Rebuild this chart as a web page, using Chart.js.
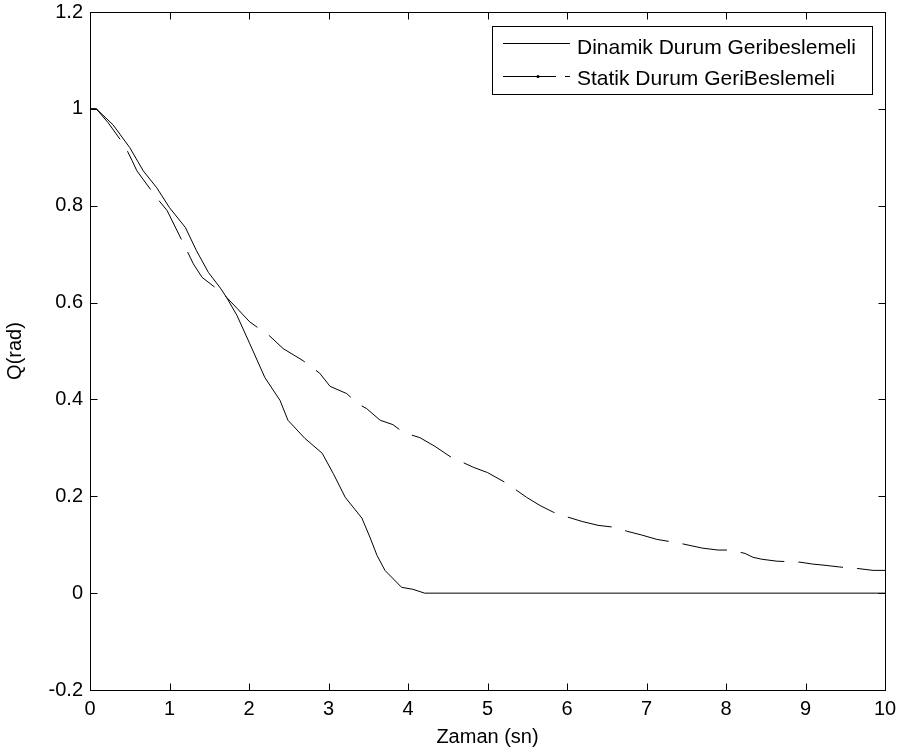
<!DOCTYPE html>
<html>
<head>
<meta charset="utf-8">
<script src="https://cdn.jsdelivr.net/npm/chart.js@4/dist/chart.umd.min.js"></script>
<style>
  html, body { margin: 0; padding: 0; background: #fff; }
  canvas { display: block; }
</style>
</head>
<body>
<canvas id="chart" width="904" height="753"></canvas>
<script>
// Dinamik durum geribeslemeli (solid)
const dynTime  = [0, 0.08, 0.29, 0.5, 0.67, 0.84, 1.0, 1.2, 1.34, 1.49, 1.64, 1.72, 1.85, 2.01, 2.2, 2.39, 2.49, 2.7, 2.92, 3.06, 3.21, 3.42, 3.52, 3.61, 3.71, 3.92, 4.06, 4.21, 10];
const dynValue = [1, 1, 0.967, 0.92, 0.872, 0.837, 0.796, 0.755, 0.707, 0.662, 0.63, 0.61, 0.573, 0.515, 0.445, 0.398, 0.357, 0.32, 0.289, 0.247, 0.198, 0.155, 0.116, 0.078, 0.047, 0.012, 0.008, 0, 0];

// Statik durum geribeslemeli (dashed)
const statTime  = [0, 0.08, 0.23, 0.44, 0.53, 0.59, 0.84, 0.97, 1.22, 1.3, 1.41, 1.67, 1.85, 2.01, 2.26, 2.43, 2.68, 2.89, 3.02, 3.23, 3.36, 3.48, 3.65, 3.81, 3.94, 4.15, 4.34, 4.53, 4.82, 5.0, 5.24, 5.49, 5.66, 5.83, 6.01, 6.19, 6.39, 6.6, 6.75, 6.94, 7.13, 7.42, 7.7, 7.9, 8.05, 8.24, 8.34, 8.45, 8.64, 8.93, 9.09, 9.22, 9.43, 9.65, 9.85, 10];
const statValue = [1, 1, 0.971, 0.923, 0.893, 0.872, 0.816, 0.79, 0.707, 0.68, 0.652, 0.619, 0.588, 0.56, 0.531, 0.505, 0.48, 0.454, 0.427, 0.412, 0.392, 0.381, 0.357, 0.348, 0.332, 0.321, 0.303, 0.282, 0.26, 0.249, 0.227, 0.198, 0.181, 0.167, 0.157, 0.148, 0.14, 0.136, 0.128, 0.12, 0.111, 0.103, 0.093, 0.089, 0.089, 0.082, 0.074, 0.07, 0.066, 0.064, 0.06, 0.058, 0.054, 0.051, 0.047, 0.047];

const seriesLabels = ['Dinamik Durum Geribeslemeli', 'Statik Durum GeriBeslemeli'];
const xTicks = [0, 1, 2, 3, 4, 5, 6, 7, 8, 9, 10];
const yTicks = [-0.2, 0, 0.2, 0.4, 0.6, 0.8, 1, 1.2];

const FONT = 'Liberation Sans, Arial, Helvetica, sans-serif';

function toPoints(xs, ys) {
  return xs.map(function (x, i) { return { x: x, y: ys[i] }; });
}

// MATLAB-style box: frame on all four sides, inward ticks, boxed legend
const matlabFrame = {
  id: 'matlabFrame',
  afterDraw: function (chart) {
    const ctx = chart.ctx;
    const a = chart.chartArea;
    const xs = chart.scales.x;
    const ys = chart.scales.y;
    const L = Math.round(a.left) + 0.5, R = Math.round(a.right) + 0.5;
    const T = Math.round(a.top) + 0.5, B = Math.round(a.bottom) + 0.5;
    const tick = 7;

    ctx.save();
    ctx.strokeStyle = '#000';
    ctx.lineWidth = 1;
    ctx.setLineDash([]);
    ctx.strokeRect(L, T, R - L, B - T);

    ctx.beginPath();
    xTicks.forEach(function (v) {
      const px = Math.round(xs.getPixelForValue(v)) + 0.5;
      ctx.moveTo(px, B); ctx.lineTo(px, B - tick);
      ctx.moveTo(px, T); ctx.lineTo(px, T + tick);
    });
    yTicks.forEach(function (v) {
      const py = Math.round(ys.getPixelForValue(v)) + 0.5;
      ctx.moveTo(L, py); ctx.lineTo(L + tick, py);
      ctx.moveTo(R, py); ctx.lineTo(R - tick, py);
    });
    ctx.stroke();

    // legend box
    const bx = 492.5, by = 26.5, bw = 380, bh = 68;
    ctx.fillStyle = '#fff';
    ctx.fillRect(bx, by, bw, bh);
    ctx.strokeRect(bx, by, bw, bh);

    ctx.font = '21px ' + FONT;
    ctx.fillStyle = '#000';
    ctx.textAlign = 'left';
    ctx.textBaseline = 'alphabetic';

    // row 1: solid sample
    ctx.beginPath();
    ctx.moveTo(503, 43.5); ctx.lineTo(570, 43.5);
    ctx.stroke();
    ctx.fillText(seriesLabels[0], 577, 54);

    // row 2: dashed sample with point marker
    ctx.setLineDash([53, 9]);
    ctx.beginPath();
    ctx.moveTo(503, 76.5); ctx.lineTo(570, 76.5);
    ctx.stroke();
    ctx.setLineDash([]);
    ctx.beginPath();
    ctx.arc(538, 76.5, 1.6, 0, Math.PI * 2);
    ctx.fill();
    ctx.fillText(seriesLabels[1], 577, 85);

    ctx.restore();
  }
};

new Chart(document.getElementById('chart'), {
  type: 'line',
  data: {
    datasets: [
      {
        label: seriesLabels[0],
        data: toPoints(dynTime, dynValue),
        borderColor: '#000',
        borderWidth: 1,
        pointRadius: 0,
        tension: 0,
        fill: false
      },
      {
        label: seriesLabels[1],
        data: toPoints(statTime, statValue),
        borderColor: '#000',
        borderWidth: 1,
        borderDash: [45, 14],
        pointRadius: 0,
        tension: 0,
        fill: false
      }
    ]
  },
  options: {
    responsive: false,
    animation: false,
    layout: { padding: { top: 12, right: 19, left: 0, bottom: 0 } },
    plugins: {
      legend: { display: false },
      tooltip: { enabled: false }
    },
    scales: {
      x: {
        type: 'linear',
        min: 0,
        max: 10,
        afterBuildTicks: function (s) { s.ticks = xTicks.map(function (v) { return { value: v }; }); },
        afterFit: function (s) { s.height = 63; s.paddingLeft = 0; s.paddingRight = 0; },
        grid: { display: false, drawTicks: false },
        border: { display: false },
        ticks: {
          color: '#000',
          padding: 7,
          maxRotation: 0,
          font: { family: FONT, size: 20 }
        },
        title: {
          display: true,
          text: 'Zaman (sn)',
          color: '#000',
          padding: { top: 0, bottom: 4 },
          font: { family: FONT, size: 20 }
        }
      },
      y: {
        type: 'linear',
        min: -0.2,
        max: 1.2,
        afterBuildTicks: function (s) { s.ticks = yTicks.map(function (v) { return { value: v }; }); },
        afterFit: function (s) { s.width = 90; s.paddingTop = 0; s.paddingBottom = 0; },
        grid: { display: false, drawTicks: false },
        border: { display: false },
        ticks: {
          color: '#000',
          padding: 7,
          font: { family: FONT, size: 20 },
          callback: function (v) { return String(parseFloat(Number(v).toFixed(1))); }
        },
        title: {
          display: true,
          text: 'Q(rad)',
          color: '#000',
          padding: { top: 3, bottom: 0 },
          font: { family: FONT, size: 20 }
        }
      }
    }
  },
  plugins: [matlabFrame]
});
</script>
</body>
</html>
